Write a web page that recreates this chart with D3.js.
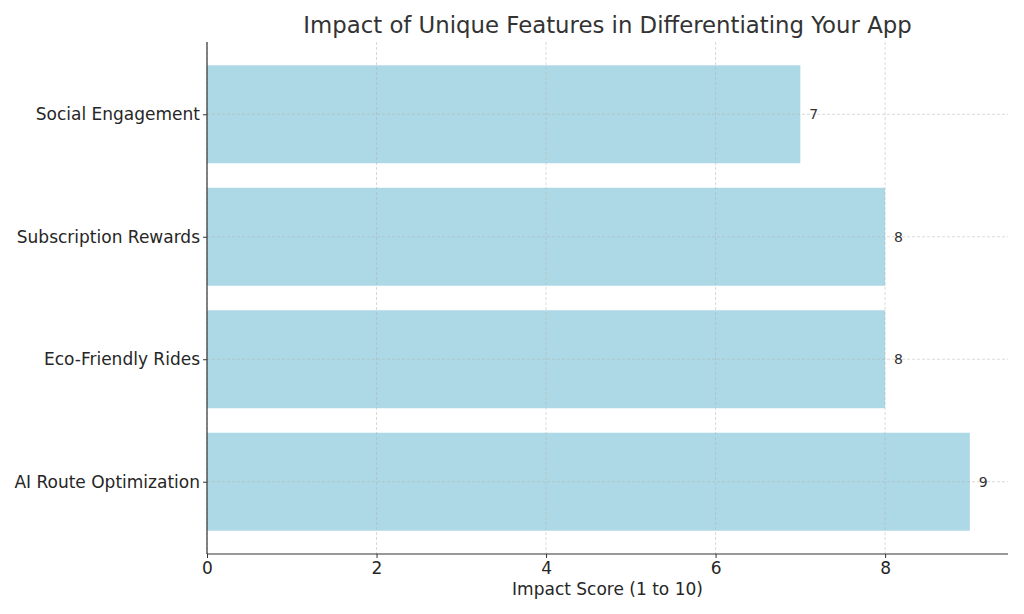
<!DOCTYPE html>
<html><head><meta charset="utf-8">
<script src="https://cdn.jsdelivr.net/npm/d3@7"></script>
<style>body{margin:0;background:#fff;}svg{display:block;font-family:"DejaVu Sans",sans-serif;}</style>
</head><body>
<svg id="c" width="1024" height="614"></svg>
<script>
const categories = ["AI Route Optimization", "Eco-Friendly Rides", "Subscription Rewards", "Social Engagement"];
const values = [9, 8, 8, 7];
const xTicks = [0, 2, 4, 6, 8];
const title = "Impact of Unique Features in Differentiating Your App";
const xLabel = "Impact Score (1 to 10)";

const svg = d3.select("#c");
const L = 207, R = 1008, T = 42, B = 554;
const x = d3.scaleLinear().domain([0, 9.45]).range([L, R]);
const y = d3.scaleLinear().domain([-0.59, 3.59]).range([B, T]);
const barH = 0.8;

svg.append("g").selectAll("rect").data(values).join("rect")
  .attr("x", x(0))
  .attr("y", (d, i) => y(i + barH / 2))
  .attr("width", d => x(d) - x(0))
  .attr("height", (d, i) => y(i - barH / 2) - y(i + barH / 2))
  .attr("fill", "#add8e6");

const grid = svg.append("g").attr("stroke", "#b0b0b0").attr("stroke-opacity", 0.6)
  .attr("stroke-width", 0.8).attr("stroke-dasharray", "3,2");
grid.selectAll("line.v").data(xTicks).join("line").attr("class", "v")
  .attr("x1", d => x(d)).attr("x2", d => x(d)).attr("y1", T).attr("y2", B);
grid.selectAll("line.h").data(categories).join("line").attr("class", "h")
  .attr("x1", L).attr("x2", R).attr("y1", (d, i) => y(i)).attr("y2", (d, i) => y(i));

const xAxis = svg.append("g").attr("transform", `translate(0,${B})`)
  .call(d3.axisBottom(x).tickValues(xTicks).tickFormat(d3.format("d")).tickSize(4).tickPadding(4));
xAxis.select(".domain").remove();
xAxis.selectAll("line").attr("stroke", "#333");
xAxis.selectAll("text").attr("font-size", 17).attr("fill", "#262626").attr("font-family", "DejaVu Sans");

const yAxis = svg.append("g").attr("transform", `translate(${L},0)`)
  .call(d3.axisLeft(y).tickValues(d3.range(categories.length)).tickFormat(i => categories[i]).tickSize(4).tickPadding(3));
yAxis.select(".domain").remove();
yAxis.selectAll("line").attr("stroke", "#333");
yAxis.selectAll("text").attr("font-size", 17).attr("fill", "#262626").attr("font-family", "DejaVu Sans");

svg.append("line").attr("x1", L).attr("x2", L).attr("y1", T).attr("y2", B).attr("stroke", "#333").attr("stroke-width", 1.2);
svg.append("line").attr("x1", L).attr("x2", R).attr("y1", B).attr("y2", B).attr("stroke", "#333").attr("stroke-width", 1.2);

svg.append("g").selectAll("text").data(values).join("text")
  .attr("x", d => x(d) + 9)
  .attr("y", (d, i) => y(i))
  .attr("dy", "0.35em")
  .attr("font-size", 14).attr("fill", "#333")
  .text(d => d);

svg.append("text").attr("x", (L + R) / 2).attr("y", 33).attr("text-anchor", "middle")
  .attr("font-size", 22.8).attr("fill", "#333").text(title);
svg.append("text").attr("x", (L + R) / 2).attr("y", 595).attr("text-anchor", "middle")
  .attr("font-size", 17).attr("fill", "#262626").text(xLabel);
</script>
</body></html>
